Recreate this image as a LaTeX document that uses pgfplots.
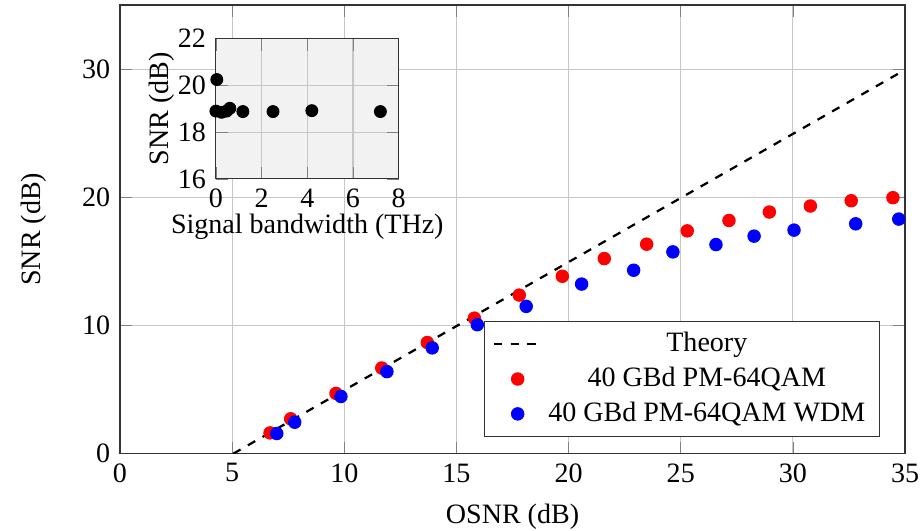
\documentclass[border=0pt]{standalone}
\usepackage{fontspec}
\setmainfont{Liberation Serif}
\usepackage{pgfplots}
\pgfplotsset{compat=1.18}
\begin{document}
\begin{tikzpicture}
\begin{axis}[
  name=main,
  at={(0,0)}, anchor=south west,
  scale only axis,
  width=280pt, height=160pt,
  xmin=0, xmax=35, ymin=0, ymax=35,
  xtick={0,5,...,35}, ytick={0,10,20,30},
  xticklabels={0,5,10,15,20,25,30,35},
  yticklabels={0,10,20,30},
  grid=major,
  grid style={gray!45, line width=0.4pt},
  axis line style={black!80},
  xlabel={OSNR (dB)}, ylabel={SNR (dB)},
  ylabel style={yshift=6pt},
  xlabel style={yshift=-0.8pt},
  legend cell align=center,
  legend style={at={(0.968,0.036)}, anchor=south east, draw=black!80, font=\normalsize, row sep=0pt},
]
\addplot[black, dashed, thick] coordinates {(5.05,0) (35,29.95)};
\addlegendentry{Theory}
\addplot[only marks, mark=*, mark size=2.2pt, color=red] coordinates {
(6.69,1.62) (7.61,2.72) (9.63,4.70) (11.67,6.68) (13.70,8.67) (15.80,10.57)
(17.80,12.37) (19.72,13.84) (21.59,15.22) (23.48,16.34) (25.29,17.38)
(27.15,18.19) (28.95,18.85) (30.78,19.32) (32.60,19.73) (34.46,19.97)};
\addlegendentry{40 GBd PM-64QAM}
\addplot[only marks, mark=*, mark size=2.2pt, color=blue] coordinates {
(6.99,1.57) (7.79,2.45) (9.85,4.46) (11.90,6.40) (13.92,8.25) (15.93,10.06)
(18.11,11.49) (20.58,13.23) (22.90,14.31) (24.65,15.74) (26.57,16.31)
(28.27,16.97) (30.05,17.44) (32.80,17.93) (34.72,18.30)};
\addlegendentry{40 GBd PM-64QAM WDM}
\end{axis}
\begin{axis}[
  scale only axis,
  at={(34.2pt,148.0pt)}, anchor=north west,
  width=65.2pt, height=50pt,
  xmin=0, xmax=8, ymin=16, ymax=22,
  xtick={0,2,4,6,8}, ytick={16,18,20,22},
  xticklabels={0,2,4,6,8}, yticklabels={16,18,20,22},
  grid=major,
  grid style={gray!45, line width=0.4pt},
  axis line style={black!80},
  axis background/.style={fill=gray!10},
  xlabel={Signal bandwidth (THz)}, ylabel={SNR (dB)},
  xlabel style={yshift=4.5pt}, ylabel style={yshift=-5.5pt},
]
\addplot[only marks, mark=*, mark size=2.1pt, color=black] coordinates {
(0.04,20.25) (0.0,18.9) (0.25,18.85) (0.47,18.9) (0.61,19.02) (1.18,18.88)
(2.5,18.88) (4.2,18.92) (7.2,18.88)};
\end{axis}
\pgfresetboundingbox
\path[use as bounding box] (-42.8pt,-27.5pt) rectangle (286.4pt,161.8pt);
\end{tikzpicture}
\end{document}
